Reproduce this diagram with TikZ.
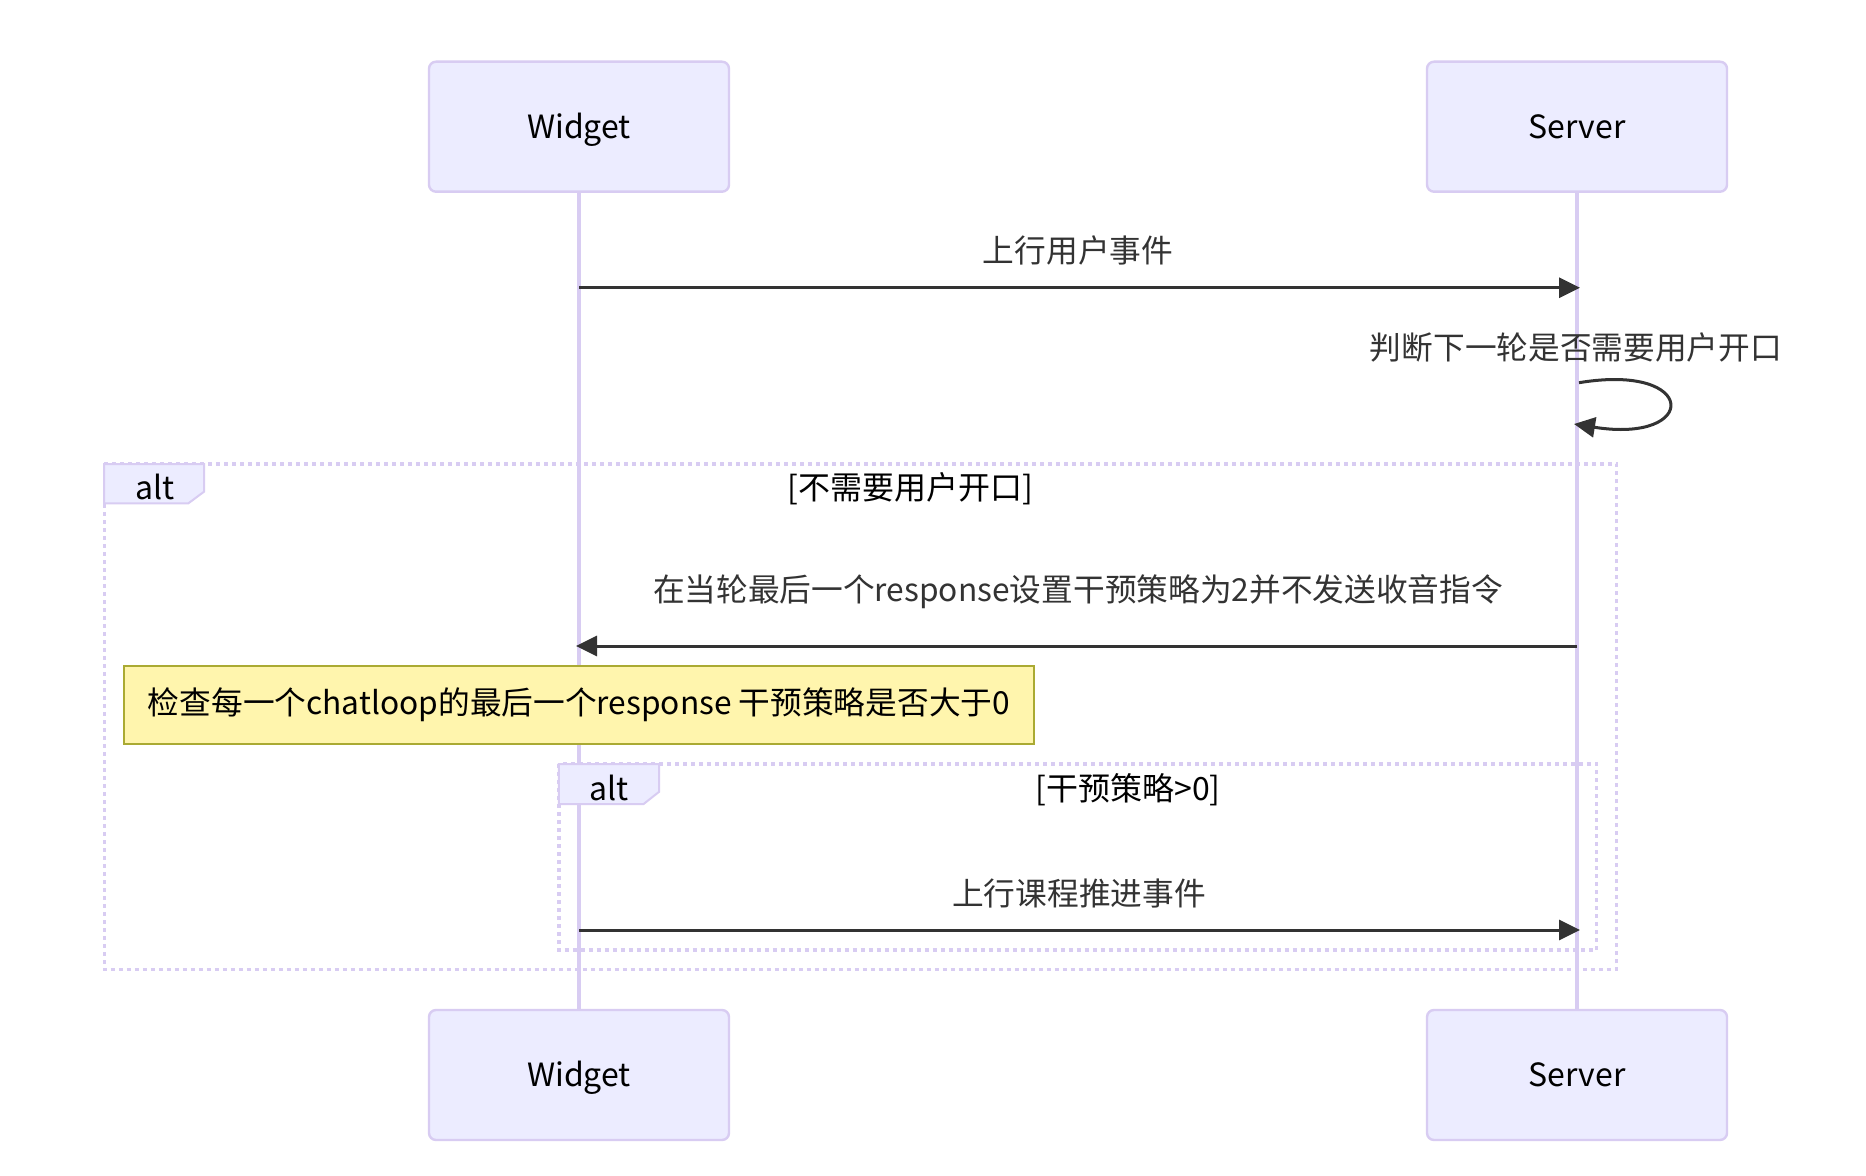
\documentclass[tikz,border=0pt]{standalone}
\usepackage{fontspec}
\setmainfont{Noto Sans CJK SC}
\usetikzlibrary{arrows.meta}
\definecolor{actfill}{HTML}{ECECFF}
\definecolor{actline}{HTML}{D8CCF2}
\definecolor{notefill}{HTML}{FFF5AD}
\definecolor{noteline}{HTML}{AAAA33}
\definecolor{msgc}{HTML}{333333}
\tikzset{
  actor/.style={draw=actline, fill=actfill, line width=1.2pt, rounded corners=3.5pt,
    minimum width=150pt, minimum height=65pt, inner sep=0pt, font=\fontsize{16}{18}\selectfont, text=black,
    text height=11.5pt, text depth=0pt},
  life/.style={draw=actline, line width=1.6pt},
  msg/.style={draw=msgc, line width=1.5pt, -{Triangle[length=10.5pt,width=10pt]}},
  msglabel/.style={text=msgc, font=\fontsize{15.85}{18}\selectfont, inner sep=0pt},
  altbox/.style={draw=actline, line width=1.7pt, dash pattern=on 2pt off 2pt},
  alttag/.style={draw=actline, fill=actfill, line width=1pt},
  tagtext/.style={text=black, font=\fontsize{16}{18}\selectfont, inner sep=0pt},
  notebox/.style={draw=noteline, fill=notefill, line width=1pt, minimum width=455pt,
    minimum height=39pt, inner sep=0pt, text=black, font=\fontsize{15.85}{18}\selectfont},
}
\begin{document}
\begin{tikzpicture}[x=0.5pt,y=-0.5pt]
\useasboundingbox[fill=white] (0,0) rectangle (1866,1176);
% actors
\node[actor] (wtop) at (579,126.7) {Widget};
\node[actor] (stop) at (1577,126.7) {Server};
\node[actor] (wbot) at (579,1075) {Widget};
\node[actor] (sbot) at (1577,1075) {Server};
% lifelines
\draw[life] (wtop.south) -- (wbot.north);
\draw[life] (stop.south) -- (sbot.north);
% message 1
\coordinate (m1a) at (579,287.7);
\coordinate (m1b) at (1580,287.7);
\draw[msg] (m1a) -- (m1b);
\node[msglabel] (l1) at (1078,250) {上行用户事件};
% self message
\coordinate (s1a) at (1579,382.7);
\coordinate (s1b) at (1574,424);
\draw[msg] (s1a) .. controls (1699,362.7) and (1699,444) .. (s1b);
\node[msglabel] (l2) at (1576,347) {判断下一轮是否需要用户开口};
% outer alt
\draw[altbox] (104.2,464) rectangle (1616.7,969.3);
\draw[alttag] (104.2,464) -- (204,464) -- (204,491.7) -- (188.4,503.3) -- (104.2,503.3) -- cycle;
\node[tagtext] (alt1) at (155,486.7) {alt};
\node[tagtext] (c1) at (910,489) {[不需要用户开口]};
% message 2
\coordinate (m2a) at (1577,646);
\coordinate (m2b) at (576,646);
\draw[msg] (m2a) -- (m2b);
\node[msglabel] (l3) at (1078,592) {在当轮最后一个response设置干预策略为2并不发送收音指令};
% note
\node[notebox] (note) at (579,705) {检查每一个chatloop的最后一个response 干预策略是否大于0};
% inner alt
\draw[altbox] (558.8,764) rectangle (1596.7,950);
\draw[alttag] (558.8,764) -- (659.2,764) -- (659.2,791.7) -- (643.6,804) -- (558.8,804) -- cycle;
\node[tagtext] (alt2) at (609,788) {alt};
\node[tagtext] (c2) at (1128,790) {[干预策略>0]};
% message 3
\coordinate (m3a) at (579,930);
\coordinate (m3b) at (1580,930);
\draw[msg] (m3a) -- (m3b);
\node[msglabel] (l4) at (1079,893) {上行课程推进事件};
\end{tikzpicture}
\end{document}
